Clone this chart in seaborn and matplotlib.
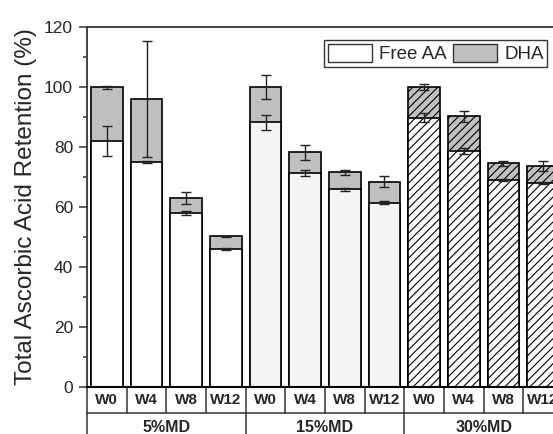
import numpy as np
import pandas as pd
import matplotlib
matplotlib.use("Agg")
import matplotlib.pyplot as plt
import matplotlib.transforms as mtransforms
from matplotlib.patches import Patch
import seaborn as sns

# ---- data ----
groups = ["5%MD", "15%MD", "30%MD"]
weeks = ["W0", "W4", "W8", "W12"]
free_aa = [82.0, 75.0, 58.0, 46.0, 88.2, 71.3, 66.0, 61.5, 89.7, 78.6, 69.0, 68.0]
free_err = [5.1, 0.3, 0.6, 0.3, 2.5, 1.0, 0.5, 0.5, 1.5, 1.0, 0.3, 0.3]
total = [100.0, 96.0, 63.0, 50.2, 100.0, 78.3, 71.6, 68.5, 100.0, 90.2, 74.6, 73.8]
total_err = [0.5, 19.3, 2.0, 0.3, 4.1, 2.5, 0.9, 1.7, 1.0, 1.8, 0.8, 1.7]

labels = [f"{g} {w}" for g in groups for w in weeks]
df = pd.DataFrame({"label": labels, "free": free_aa, "total": total})

sns.set_style("ticks")
plt.rcParams["font.family"] = ["Liberation Sans", "DejaVu Sans"]
plt.rcParams["hatch.linewidth"] = 0.8

fig = plt.figure(figsize=(5.53, 4.34), dpi=100)
ax = fig.add_axes([87 / 553, 47 / 434, 476 / 553, 360 / 434])

dha_color = "#c0c0c0"
sns.barplot(data=df, x="label", y="total", color=dha_color, saturation=1,
            edgecolor="black", linewidth=1.2, width=0.8, errorbar=None, ax=ax)
sns.barplot(data=df, x="label", y="free", color="white", saturation=1,
            edgecolor="black", linewidth=1.2, width=0.8, errorbar=None, ax=ax)

n = len(labels)
patches = ax.patches
for i in range(n):
    g = i // 4
    p_tot = patches[i]
    p_free = patches[i + n]
    p_tot.set_facecolor(dha_color)
    if g == 1:
        p_free.set_facecolor("#f4f4f4")
    elif g == 2:
        p_free.set_facecolor("white")
        p_free.set_hatch("////")
        p_tot.set_hatch("////")
    p_tot.set_edgecolor("black")
    p_free.set_edgecolor("black")

xpos = np.arange(n)
ax.errorbar(xpos, total, yerr=total_err, fmt="none", ecolor="#222222",
            elinewidth=1.0, capsize=3.5, capthick=1.0, zorder=5)
ax.errorbar(xpos, free_aa, yerr=free_err, fmt="none", ecolor="#222222",
            elinewidth=1.0, capsize=3.5, capthick=1.0, zorder=5)

ax.set_xlim(-0.5, n - 0.5)
ax.set_ylim(0, 120)
ax.set_yticks(np.arange(0, 121, 20))
ax.set_yticks(np.arange(10, 120, 20), minor=True)
ax.tick_params(axis="y", which="major", direction="out", length=6, width=1.1,
               labelsize=12.5, pad=4, color="#333333")
ax.tick_params(axis="y", which="minor", direction="out", length=3, width=1.1,
               color="#333333")
ax.set_xticks([])
ax.set_xlabel("")
ax.set_ylabel("Total Ascorbic Acid Retention (%)", fontsize=17.5, labelpad=5)

for side in ["top", "left"]:
    ax.spines[side].set_visible(True)
    ax.spines[side].set_linewidth(1.3)
    ax.spines[side].set_color("#333333")
ax.spines["right"].set_visible(False)
ax.spines["bottom"].set_linewidth(1.5)
ax.spines["bottom"].set_color("black")

# category table below the axis
trans = mtransforms.blended_transform_factory(ax.transData, ax.transAxes)
row1 = -26 / 360
bottom = -50 / 360
line_kw = dict(color="#333333", lw=1.1, transform=trans, clip_on=False)
for k in range(n + 1):
    ax.plot([k - 0.5, k - 0.5], [0, row1], **line_kw)
for k in range(len(groups) + 1):
    ax.plot([4 * k - 0.5, 4 * k - 0.5], [row1, bottom], **line_kw)
ax.plot([-0.5, n - 0.5], [row1, row1], **line_kw)
for i in range(n):
    ax.text(i, row1 / 2, weeks[i % 4], transform=trans, ha="center", va="center",
            fontsize=11, fontweight="bold")
for g, name in enumerate(groups):
    ax.text(4 * g + 1.5, -41 / 360, name, transform=trans, ha="center",
            va="center", fontsize=11.5, fontweight="bold")

handles = [Patch(facecolor="white", edgecolor="#333333", lw=1.0, label="Free AA"),
           Patch(facecolor=dha_color, edgecolor="#333333", lw=1.0, label="DHA")]
leg = ax.legend(handles=handles, ncol=2, loc="upper left",
                bbox_to_anchor=(324 / 553, 1 - 40 / 434), bbox_transform=fig.transFigure,
                fontsize=13.5, frameon=True, fancybox=False, edgecolor="black",
                handlelength=2.35, handleheight=1.1, handletextpad=0.4,
                columnspacing=0.3, borderpad=0.2, borderaxespad=0)
leg.get_frame().set_linewidth(1.0)

fig.savefig("out.png", dpi=100)
